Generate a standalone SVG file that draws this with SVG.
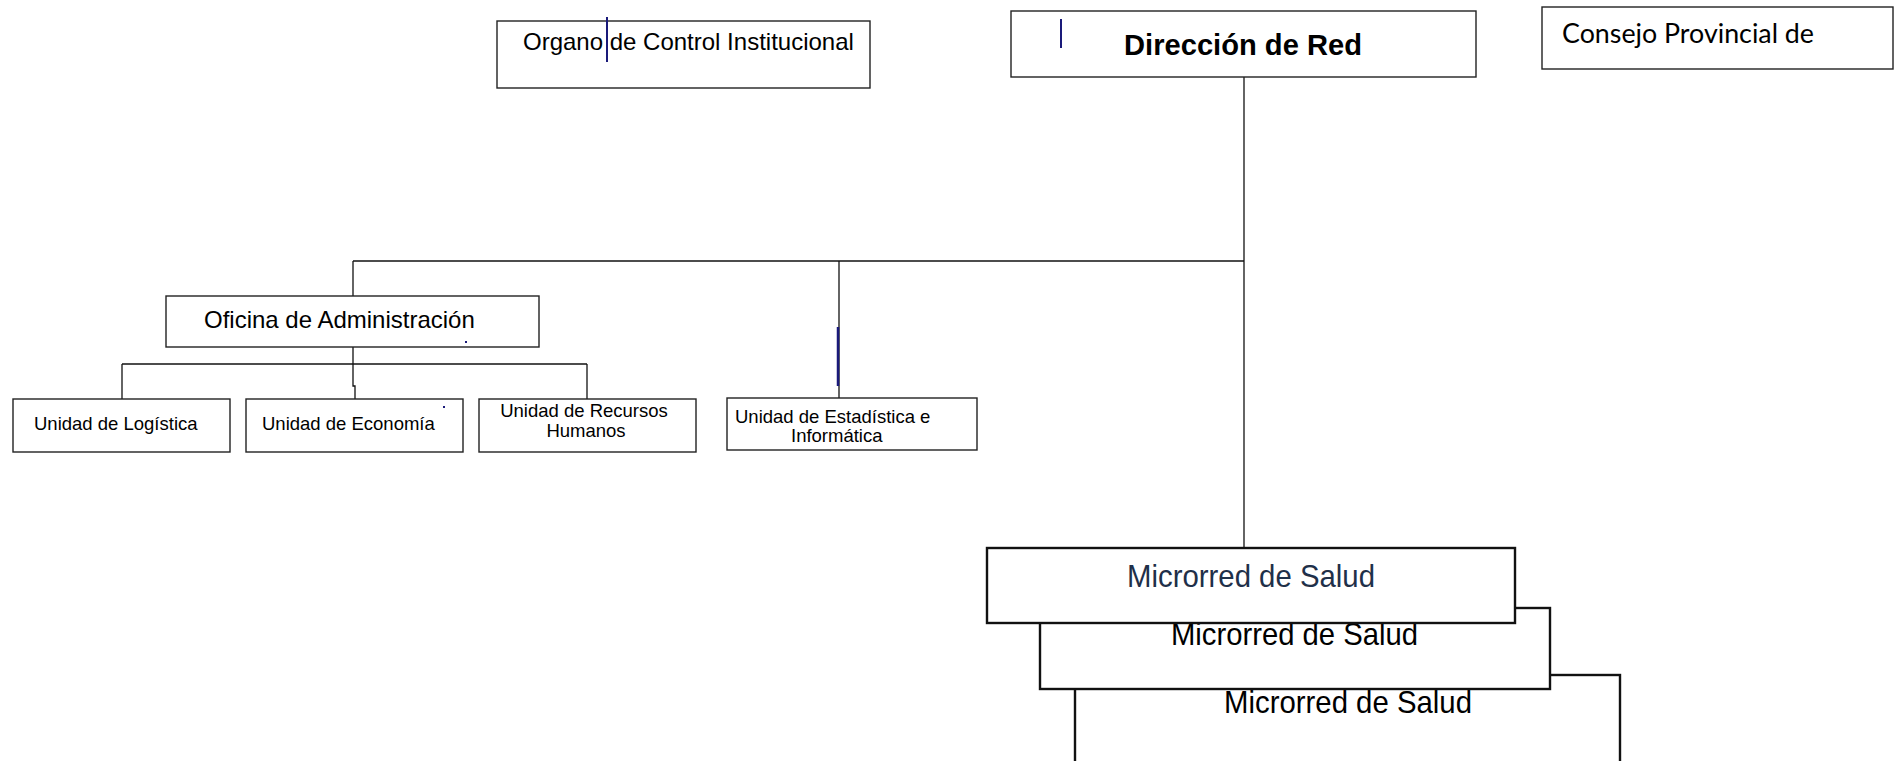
<svg xmlns="http://www.w3.org/2000/svg" width="1901" height="761" viewBox="0 0 1901 761">
<style>
  .box { fill: #ffffff; stroke: #222222; stroke-width: 1.4; }
  .mbox { fill: #ffffff; stroke: #111111; stroke-width: 2.4; }
  .t { font-family: "Liberation Sans", Arial, sans-serif; fill: #000000; }
  .unit { font-size: 18.5px; }
  .conn line, .conn polyline { stroke: #111111; stroke-width: 1.3; fill: none; }
  .mark { stroke: #1a1a7a; fill: none; }
  .dot { fill: #1a1a7a; }
</style>
<rect width="1901" height="761" fill="#ffffff"/>

<g id="connectors" class="conn">
  <line x1="1244" y1="77" x2="1244" y2="548"/>
  <line x1="353" y1="261" x2="1244" y2="261"/>
  <line x1="353" y1="261" x2="353" y2="296"/>
  <line x1="839" y1="261" x2="839" y2="398"/>
  <polyline points="353,347 353,386 355,386 355,399"/>
  <line x1="122" y1="364" x2="587" y2="364"/>
  <line x1="122" y1="364" x2="122" y2="399"/>
  <line x1="587" y1="364" x2="587" y2="399"/>
</g>

<g id="organo">
  <rect class="box" x="497" y="21" width="373" height="67"/>
  <text class="t" x="523" y="50" font-size="24">Organo de Control Institucional</text>
  <line class="mark" x1="607" y1="17" x2="607" y2="62" stroke-width="2"/>
</g>

<g id="direccion">
  <rect class="box" x="1011" y="11" width="465" height="66"/>
  <text class="t" x="1124" y="55" font-size="30" font-weight="bold" textLength="238" lengthAdjust="spacingAndGlyphs">Dirección de Red</text>
  <line class="mark" x1="1061" y1="19" x2="1061" y2="48" stroke-width="2"/>
</g>

<g id="consejo">
  <rect class="box" x="1542" y="7" width="351" height="62"/>
  <text x="1562" y="43" font-family="Lato, 'Open Sans', sans-serif" font-size="26" textLength="252" lengthAdjust="spacingAndGlyphs">Consejo Provincial de</text>
</g>

<g id="oficina">
  <rect class="box" x="166" y="296" width="373" height="51"/>
  <text class="t" x="204" y="328" font-size="24">Oficina de Administración</text>
  <rect class="dot" x="465" y="341" width="2" height="2"/>
</g>

<g id="logistica">
  <rect class="box" x="13" y="399" width="217" height="53"/>
  <text class="t unit" x="34" y="430">Unidad de Logística</text>
</g>

<g id="economia">
  <rect class="box" x="246" y="399" width="217" height="53"/>
  <text class="t unit" x="262" y="430">Unidad de Economía</text>
  <rect class="dot" x="443" y="406" width="2" height="2"/>
</g>

<g id="rrhh">
  <rect class="box" x="479" y="399" width="217" height="53"/>
  <text class="t unit" x="584" y="417" text-anchor="middle">Unidad de Recursos</text>
  <text class="t unit" x="586" y="437" text-anchor="middle">Humanos</text>
</g>

<g id="estadistica">
  <rect class="box" x="727" y="398" width="250" height="52"/>
  <text class="t unit" x="735" y="423">Unidad de Estadística e</text>
  <text class="t unit" x="791" y="442">Informática</text>
  <line class="mark" x1="838" y1="327" x2="838" y2="386" stroke-width="2.5"/>
</g>

<g id="microrred3">
  <rect class="mbox" x="1075" y="675" width="545" height="140"/>
  <text class="t" x="1224" y="713" font-size="32" textLength="248" lengthAdjust="spacingAndGlyphs">Microrred de Salud</text>
</g>

<g id="microrred2">
  <rect class="mbox" x="1040" y="608" width="510" height="81"/>
  <text class="t" x="1171" y="645" font-size="32" textLength="247" lengthAdjust="spacingAndGlyphs">Microrred de Salud</text>
</g>

<g id="microrred1">
  <rect class="mbox" x="987" y="548" width="528" height="75"/>
  <text class="t" x="1127" y="587" font-size="32" style="fill:#1f3049" textLength="248" lengthAdjust="spacingAndGlyphs">Microrred de Salud</text>
</g>
</svg>
